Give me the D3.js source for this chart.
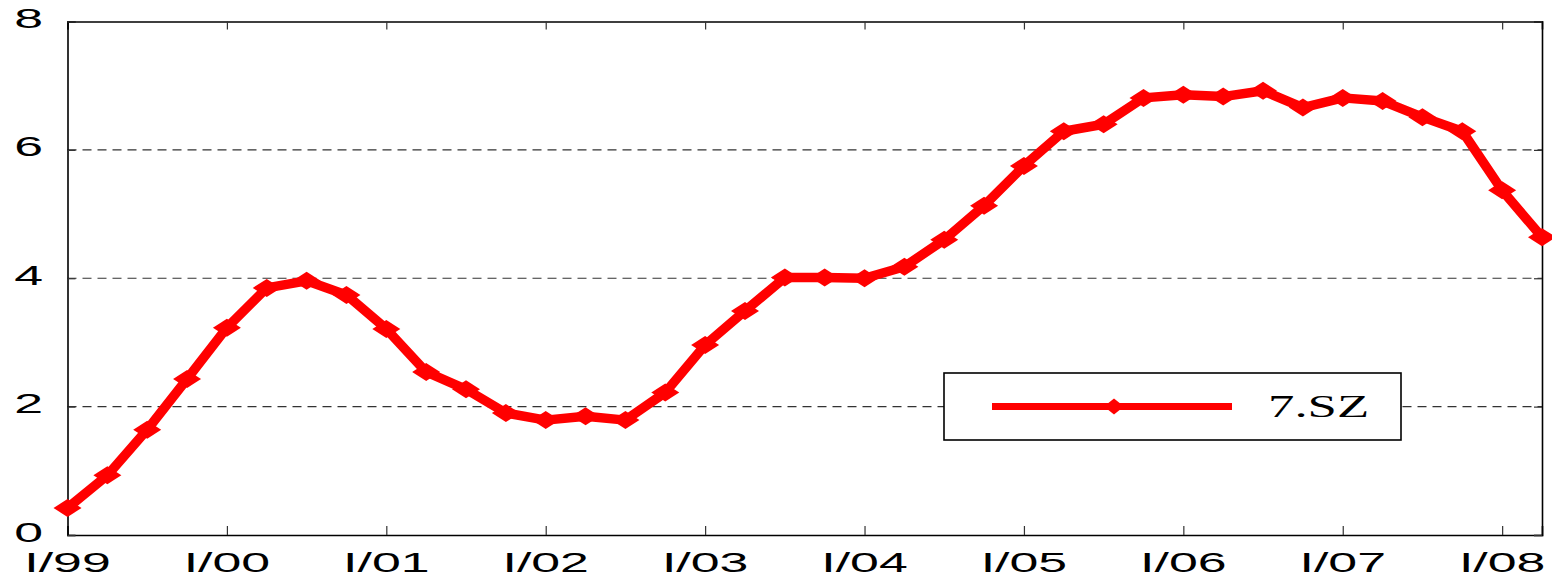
<!DOCTYPE html>
<html>
<head>
<meta charset="utf-8">
<script src="https://cdn.jsdelivr.net/npm/d3@7"></script>
<style>
  html, body { margin: 0; padding: 0; background: #fff; }
  svg { display: block; }
</style>
</head>
<body>
<svg id="chart" width="1552" height="577"></svg>
<script>
// ---- data ----
const quarters = [
  "I/99","II/99","III/99","IV/99",
  "I/00","II/00","III/00","IV/00",
  "I/01","II/01","III/01","IV/01",
  "I/02","II/02","III/02","IV/02",
  "I/03","II/03","III/03","IV/03",
  "I/04","II/04","III/04","IV/04",
  "I/05","II/05","III/05","IV/05",
  "I/06","II/06","III/06","IV/06",
  "I/07","II/07","III/07","IV/07",
  "I/08","II/08"
];
const values = [
  0.42, 0.93, 1.64, 2.43,
  3.23, 3.85, 3.96, 3.74,
  3.21, 2.54, 2.27, 1.90,
  1.79, 1.85, 1.79, 2.22,
  2.96, 3.49, 4.01, 4.01,
  4.00, 4.18, 4.60, 5.13,
  5.75, 6.29, 6.40, 6.81,
  6.86, 6.83, 6.92, 6.66,
  6.81, 6.76, 6.51, 6.29,
  5.37, 4.64
];
const xTickLabels = ["I/99","I/00","I/01","I/02","I/03","I/04","I/05","I/06","I/07","I/08"];
const yTicks = [0, 2, 4, 6, 8];
const seriesName = "7.SZ";

// ---- layout ----
const plotL = 67.5, plotR = 1542, plotT = 21.5, plotB = 535;
const svg = d3.select("#chart");
const x = d3.scalePoint().domain(quarters).range([plotL, plotR]);
const y = d3.scaleLinear().domain([0, 8]).range([plotB, plotT]);

// gridlines
svg.append("g").selectAll("line")
  .data(yTicks.filter(v => v > 0 && v < 8))
  .join("line")
  .attr("x1", plotL).attr("x2", plotR)
  .attr("y1", d => y(d)).attr("y2", d => y(d))
  .attr("stroke", "#333").attr("stroke-width", 1.2)
  .attr("stroke-dasharray", "9,6");

// axes with inward ticks
const xBottom = d3.axisBottom(x).tickValues(xTickLabels).tickSize(-9).tickFormat("");
const xTop = d3.axisTop(x).tickValues(xTickLabels).tickSize(-8).tickFormat("");
const yLeft = d3.axisLeft(y).tickValues(yTicks).tickSize(-8).tickFormat("");
const yRight = d3.axisRight(y).tickValues(yTicks).tickSize(-8).tickFormat("");

function styleAxis(g) {
  g.selectAll("path").attr("stroke", "#000").attr("stroke-width", 1.6);
  g.selectAll("line").attr("stroke", "#333").attr("stroke-width", 1.2);
}
svg.append("g").attr("transform", `translate(0,${plotB})`).call(xBottom).call(styleAxis);
svg.append("g").attr("transform", `translate(0,${plotT})`).call(xTop).call(styleAxis);
svg.append("g").attr("transform", `translate(${plotL},0)`).call(yLeft).call(styleAxis);
svg.append("g").attr("transform", `translate(${plotR},0)`).call(yRight).call(styleAxis);

// tick labels (horizontally stretched, as in the reference)
svg.append("g").selectAll("text")
  .data(xTickLabels)
  .join("text")
  .attr("transform", d => `translate(${x(d)},572.2) scale(1.92,1)`)
  .attr("text-anchor", "middle")
  .attr("font-family", "Liberation Sans, Arial, sans-serif")
  .attr("font-size", 27)
  .attr("fill", "#000")
  .text(d => d);

svg.append("g").selectAll("text")
  .data(yTicks)
  .join("text")
  .attr("transform", d => `translate(43,${y(d) + 6.5}) scale(1.85,1)`)
  .attr("text-anchor", "end")
  .attr("font-family", "Liberation Sans, Arial, sans-serif")
  .attr("font-size", 28)
  .attr("fill", "#000")
  .text(d => d);

// series line
const red = "#ff0000";
const line = d3.line().x((d, i) => x(quarters[i])).y(d => y(d));
svg.append("path")
  .datum(values)
  .attr("d", line)
  .attr("fill", "none")
  .attr("stroke", red)
  .attr("stroke-width", 9.5)
  .attr("stroke-linejoin", "round");

// diamond markers
function diamond(cx, cy, w, h) {
  return `M${cx - w / 2},${cy}L${cx},${cy - h / 2}L${cx + w / 2},${cy}L${cx},${cy + h / 2}Z`;
}
svg.append("g").selectAll("path")
  .data(values)
  .join("path")
  .attr("d", (d, i) => diamond(x(quarters[i]), y(d), 28, 18))
  .attr("fill", red);

// legend
const lg = svg.append("g");
lg.append("rect")
  .attr("x", 944).attr("y", 373).attr("width", 457).attr("height", 67)
  .attr("fill", "#fff").attr("stroke", "#000").attr("stroke-width", 1.6);
lg.append("line")
  .attr("x1", 992).attr("x2", 1232).attr("y1", 406.5).attr("y2", 406.5)
  .attr("stroke", red).attr("stroke-width", 7);
lg.append("path").attr("d", diamond(1114, 406.5, 20, 16)).attr("fill", red);
lg.append("text")
  .attr("transform", `translate(1268,417) scale(1.65,1)`)
  .attr("font-family", "Liberation Serif, Times New Roman, serif")
  .attr("font-size", 32)
  .attr("fill", "#000")
  .text(seriesName);
</script>
</body>
</html>
